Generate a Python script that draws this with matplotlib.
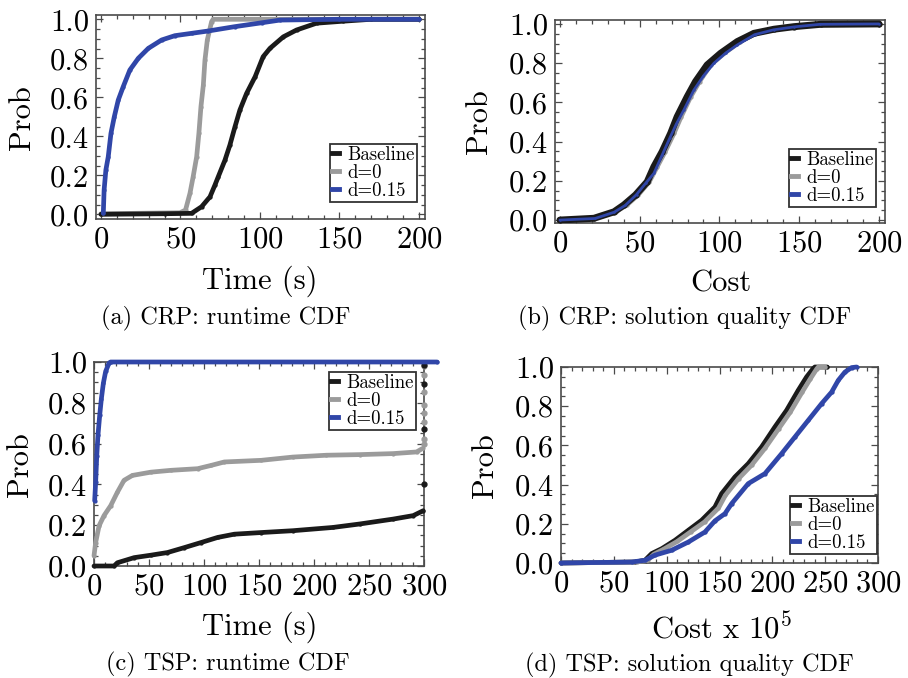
import matplotlib
matplotlib.use("Agg")
import matplotlib.pyplot as plt
from matplotlib.ticker import MultipleLocator, FormatStrFormatter
from matplotlib.lines import Line2D

plt.rcParams["font.family"] = "serif"
plt.rcParams["font.serif"] = ["cmr10", "DejaVu Serif"]
plt.rcParams["mathtext.fontset"] = "cm"
plt.rcParams["axes.formatter.use_mathtext"] = True
plt.rcParams["axes.unicode_minus"] = False

BLACK = "#1a1a1a"
GRAY = "#9b9b9b"
BLUE = "#3046a8"
FRAME = "#4a4a4a"

# ---- (a) CRP runtime CDF ----
crp_rt_base_x = [0, 40, 57, 63.3, 68.6, 71.7, 73.8, 78, 81.1, 84.3, 87.4, 91.6, 97, 102, 106.3,
                 114.7, 123, 135.6, 152, 170, 200]
crp_rt_base_y = [0.0, 0.003, 0.005, 0.039, 0.09, 0.15, 0.193, 0.278, 0.355, 0.449, 0.535, 0.62,
                 0.706, 0.808, 0.851, 0.91, 0.945, 0.98, 0.99, 1.0, 1.0]
crp_rt_d0_x = [0, 49.7, 53.2, 56, 58, 60.2, 61.6, 62.9, 64.4, 65.4, 66.9, 69.6, 70.6, 200]
crp_rt_d0_y = [0.003, 0.008, 0.022, 0.108, 0.193, 0.295, 0.415, 0.552, 0.663, 0.79, 0.894,
               0.988, 1.0, 1.0]
crp_rt_d15_x = [1.5, 2, 3.1, 4.6, 6.3, 8.4, 10.9, 14, 18.2, 23.5, 29.8, 38.2, 46.5, 57, 67.5,
                84, 101, 112.6, 150, 200]
crp_rt_d15_y = [0.005, 0.125, 0.227, 0.295, 0.415, 0.5, 0.586, 0.654, 0.74, 0.8, 0.851, 0.894,
                0.916, 0.928, 0.94, 0.962, 0.982, 0.996, 1.0, 1.0]

# ---- (b) CRP solution quality CDF ----
crp_q_base_x = [0, 21.3, 33.9, 40.1, 47.4, 54.7, 58.9, 64.1, 69.4, 73.5, 79.8, 85, 92.3, 100.7,
                111.2, 121.6, 134.2, 146.7, 163.4, 200]
crp_q_base_y = [0.0, 0.009, 0.042, 0.077, 0.128, 0.195, 0.272, 0.349, 0.442, 0.527, 0.629, 0.706,
                0.791, 0.85, 0.91, 0.952, 0.973, 0.986, 0.998, 1.0]
crp_q_d0_x = [0, 22, 35, 42, 49, 56, 61, 66, 71.5, 76, 82, 87.5, 94.5, 103, 113, 123, 135, 148,
              165, 200]
crp_q_d0_y = [0.0, 0.009, 0.042, 0.077, 0.128, 0.195, 0.272, 0.349, 0.442, 0.527, 0.629, 0.706,
              0.791, 0.85, 0.91, 0.952, 0.973, 0.986, 0.998, 1.0]
crp_q_d15_x = [0, 22, 34, 41, 48, 54, 58.9, 64, 69, 73, 77.7, 84, 90, 96.6, 104, 111.2, 122,
               134, 147, 163, 200]
crp_q_d15_y = [0.0, 0.008, 0.04, 0.075, 0.13, 0.19, 0.238, 0.33, 0.42, 0.49, 0.561, 0.663,
               0.735, 0.8, 0.852, 0.893, 0.945, 0.97, 0.985, 0.998, 1.0]

# ---- (c) TSP runtime CDF ----
tsp_rt_base_x = [0, 18.2, 21.3, 36.5, 51.7, 66.8, 82, 97.3, 112.4, 127.6, 152, 180.8, 217.2,
                 241.6, 272, 290.2, 299.3]
tsp_rt_base_y = [0.0, 0.0, 0.016, 0.041, 0.053, 0.066, 0.09, 0.115, 0.14, 0.156, 0.164, 0.173,
                 0.189, 0.206, 0.23, 0.247, 0.271]
tsp_rt_base_tail_x = [300, 300, 300, 300]
tsp_rt_base_tail_y = [0.403, 0.674, 0.893, 0.985]
tsp_rt_d0_x = [0, 1.5, 4.6, 9.1, 15.2, 21.3, 27.3, 34.9, 51.7, 69.9, 94.2, 106.4, 118.5, 152,
               180.8, 211.2, 241.6, 272, 293.2, 298.7]
tsp_rt_d0_y = [0.05, 0.115, 0.197, 0.247, 0.296, 0.362, 0.42, 0.444, 0.46, 0.469, 0.477, 0.493,
               0.51, 0.518, 0.534, 0.543, 0.546, 0.551, 0.559, 0.576]
tsp_rt_d0_tail_x = [300, 300, 300, 300, 300, 300, 300, 300]
tsp_rt_d0_tail_y = [0.6, 0.625, 0.707, 0.75, 0.789, 0.855, 0.937, 0.978]
tsp_rt_d15_x = [0.6, 1.5, 2.5, 3.6, 5.2, 6.7, 8.5, 10.6, 13.7, 15, 312]
tsp_rt_d15_y = [0.32, 0.41, 0.54, 0.64, 0.74, 0.82, 0.896, 0.954, 0.995, 1.0, 1.0]

# ---- (d) TSP solution quality CDF ----
tsp_q_base_x = [0, 70, 79.5, 85.8, 95.3, 107.9, 120.5, 133.1, 145.7, 152, 164.6, 177.2, 189.8,
                202.4, 213.5, 224.5, 232.4, 238.6, 240.3, 252]
tsp_q_base_y = [0.0, 0.005, 0.014, 0.048, 0.073, 0.116, 0.167, 0.218, 0.286, 0.354, 0.439, 0.507,
                0.592, 0.694, 0.779, 0.881, 0.949, 0.992, 1.0, 1.0]
tsp_q_d0_x = [0, 72, 82, 88, 97, 110, 123, 136, 149, 155.5, 168, 180.5, 193, 206, 217, 228,
              236, 242, 243.5, 250]
tsp_q_d0_y = [0.0, 0.005, 0.014, 0.045, 0.07, 0.11, 0.16, 0.21, 0.28, 0.345, 0.43, 0.5, 0.585,
              0.685, 0.77, 0.87, 0.94, 0.99, 1.0, 1.0]
tsp_q_d15_x = [0, 66.9, 79.5, 88.9, 104.7, 120.5, 136.2, 145.7, 155.2, 161.5, 177.2, 193, 208.8,
               221.4, 234, 246.6, 256.1, 262.4, 268.7, 275, 279.8]
tsp_q_d15_y = [0.0, 0.005, 0.014, 0.04, 0.065, 0.107, 0.158, 0.215, 0.252, 0.303, 0.405, 0.456,
               0.558, 0.643, 0.728, 0.813, 0.872, 0.932, 0.974, 0.997, 1.0]

labels = ["Baseline", "d=0", "d=0.15"]
W, H = 908, 678


def px_axes(fig, x0, y0, x1, y1):
    return fig.add_axes([x0 / W, 1 - y1 / H, (x1 - x0) / W, (y1 - y0) / H])


def fig_text(fig, x, y, s, **kw):
    fig.text(x / W, 1 - y / H, s, ha="center", va="center", **kw)


def style(ax, xmaj, xmin):
    ax.xaxis.set_major_locator(MultipleLocator(xmaj))
    ax.xaxis.set_minor_locator(MultipleLocator(xmin))
    ax.yaxis.set_major_locator(MultipleLocator(0.2))
    ax.yaxis.set_minor_locator(MultipleLocator(0.05))
    ax.yaxis.set_major_formatter(FormatStrFormatter("%.1f"))
    ax.tick_params(which="both", direction="in", top=True, right=True, color=FRAME,
                   labelsize=22, width=0.9)
    ax.tick_params(which="major", length=5, pad=5)
    ax.tick_params(which="minor", length=3)
    for sp in ax.spines.values():
        sp.set_color(FRAME)
        sp.set_linewidth(1.2)


def curve(ax, x, y, color, lw=3.4, clip=True):
    ax.plot(x, y, color=color, lw=lw, marker="o", ms=lw * 0.9, mec="none", mfc=color,
            solid_capstyle="round", solid_joinstyle="round", clip_on=clip, zorder=3)


def add_legend(ax, anchor):
    handles = [Line2D([0], [0], color=c, lw=3.5) for c in (BLACK, GRAY, BLUE)]
    leg = ax.legend(handles, labels, loc="lower right", bbox_to_anchor=anchor,
                    borderaxespad=0, fontsize=13.5, handlelength=0.35, handletextpad=0.45,
                    labelspacing=0.0, borderpad=0.12, fancybox=False, framealpha=1)
    leg.get_frame().set_edgecolor("#333333")
    leg.get_frame().set_linewidth(1.3)
    leg.set_zorder(5)


fig = plt.figure(figsize=(W / 100, H / 100), dpi=100)
fig.patch.set_facecolor("white")

# (a)
ax = px_axes(fig, 96, 15, 425, 219)
curve(ax, crp_rt_d0_x, crp_rt_d0_y, GRAY)
curve(ax, crp_rt_base_x, crp_rt_base_y, BLACK)
curve(ax, crp_rt_d15_x, crp_rt_d15_y, BLUE)
ax.set_xlim(-3.1, 203.8)
ax.set_ylim(-0.024, 1.022)
style(ax, 50, 10)
add_legend(ax, ((417 - 96) / 329, (219 - 202) / 204))
fig_text(fig, 22, 118, "Prob", fontsize=22, rotation=90)
fig_text(fig, 260, 281, "Time (s)", fontsize=22)
fig_text(fig, 226, 318, "(a) CRP: runtime CDF", fontsize=17.5)

# (b)
ax = px_axes(fig, 555, 20, 885, 223)
curve(ax, crp_q_d0_x, crp_q_d0_y, GRAY)
curve(ax, crp_q_base_x, crp_q_base_y, BLACK, lw=5)
curve(ax, crp_q_d15_x, crp_q_d15_y, BLUE, lw=2.0)
ax.set_xlim(-3.1, 203.8)
ax.set_ylim(-0.015, 1.02)
style(ax, 50, 10)
add_legend(ax, ((876 - 555) / 330, (223 - 207) / 203))
fig_text(fig, 479, 122, "Prob", fontsize=22, rotation=90)
fig_text(fig, 721, 284, "Cost", fontsize=22)
fig_text(fig, 685, 318, "(b) CRP: solution quality CDF", fontsize=17.5)

# (c)
ax = px_axes(fig, 94, 362, 424, 566)
curve(ax, tsp_rt_d0_x, tsp_rt_d0_y, GRAY, clip=False)
ax.plot(tsp_rt_d0_tail_x, tsp_rt_d0_tail_y, "o", color=GRAY, ms=3.5, clip_on=False, zorder=3)
curve(ax, tsp_rt_base_x, tsp_rt_base_y, BLACK, clip=False)
ax.plot(tsp_rt_base_tail_x, tsp_rt_base_tail_y, "o", color=BLACK, ms=3.5, clip_on=False, zorder=3)
curve(ax, tsp_rt_d15_x, tsp_rt_d15_y, BLUE, clip=False)
ax.set_xlim(0, 300)
ax.set_ylim(0, 1)
style(ax, 50, 10)
add_legend(ax, ((416 - 94) / 330, (566 - 430) / 204))
fig_text(fig, 20, 465, "Prob", fontsize=22, rotation=90)
fig_text(fig, 260, 627, "Time (s)", fontsize=22)
fig_text(fig, 228, 664, "(c) TSP: runtime CDF", fontsize=17.5)

# (d)
ax = px_axes(fig, 561, 367, 878, 563)
curve(ax, tsp_q_base_x, tsp_q_base_y, BLACK, clip=False)
curve(ax, tsp_q_d0_x, tsp_q_d0_y, GRAY, clip=False)
curve(ax, tsp_q_d15_x, tsp_q_d15_y, BLUE, clip=False)
ax.set_xlim(0, 300)
ax.set_ylim(0, 1)
style(ax, 50, 10)
add_legend(ax, ((877 - 561) / 317, (563 - 554) / 196))
fig_text(fig, 485, 466, "Prob", fontsize=22, rotation=90)
fig_text(fig, 722, 628, "Cost x $10^5$", fontsize=22)
fig_text(fig, 689, 665, "(d) TSP: solution quality CDF", fontsize=17.5)

fig.savefig("out.png", dpi=100)
